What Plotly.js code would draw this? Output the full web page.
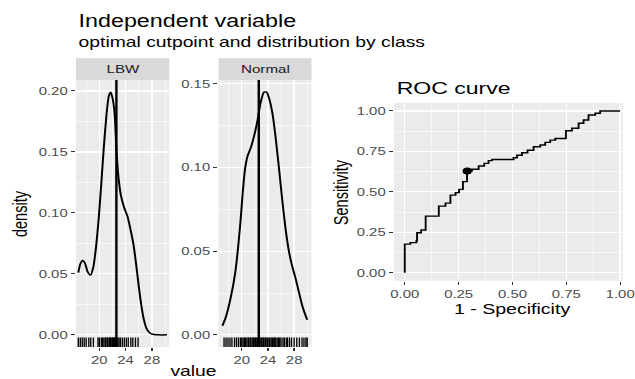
<!DOCTYPE html>
<html><head><meta charset="utf-8">
<script src="https://cdn.plot.ly/plotly-3.0.1.min.js"></script>
<style>
html,body{margin:0;padding:0;overflow:hidden;background:#fff;width:635px;height:379px}
#wrap{width:635px;height:379px;overflow:hidden}
#chart{width:477px;height:379px;transform:scale(1.3312,1);transform-origin:0 0}
</style></head><body><div id="wrap"><div id="chart"></div></div>
<script>
// ---- data ----
const classes = ['LBW', 'Normal'];
const cutpoint = 22.6;
const lbwX = [16.8, 17.1, 17.45, 17.8, 18.2, 18.65, 19.1, 19.5, 19.9, 20.3, 20.7, 21.1, 21.45, 21.75, 22.05, 22.35, 22.6, 22.9, 23.3, 23.8, 24.3, 24.8, 25.2, 25.6, 26.0, 26.4, 26.8, 27.2, 27.7, 28.3, 29.0, 30.3];
const lbwY = [0.051, 0.058, 0.061, 0.059, 0.052, 0.049, 0.056, 0.072, 0.095, 0.124, 0.155, 0.181, 0.196, 0.199, 0.193, 0.180, 0.152, 0.130, 0.114, 0.104, 0.097, 0.085, 0.074, 0.058, 0.040, 0.024, 0.012, 0.005, 0.0015, 0.0003, 0.0, 0.0];
const normX = [17.05, 17.6, 18.25, 19.0, 19.75, 20.15, 20.5, 20.9, 21.4, 21.9, 22.4, 22.9, 23.4, 23.8, 24.2, 24.7, 25.2, 25.7, 26.2, 26.7, 27.2, 27.7, 28.2, 28.7, 29.2, 29.7, 30.0];
const normY = [0.0054, 0.011, 0.021, 0.037, 0.065, 0.085, 0.099, 0.107, 0.112, 0.119, 0.128, 0.139, 0.145, 0.145, 0.141, 0.132, 0.117, 0.099, 0.080, 0.063, 0.050, 0.041, 0.034, 0.026, 0.018, 0.012, 0.009];
const lbwRug = [16.8, 17.1, 17.4, 17.7, 18.0, 18.4, 18.7, 19.1, 19.8, 20.0, 20.3, 20.5, 20.7, 20.9, 21.0, 21.2, 21.3, 21.5, 21.6, 21.7, 21.8, 22.0, 22.1, 22.2, 22.3, 22.4, 22.6, 22.8, 23.0, 23.2, 23.5, 23.8, 24.1, 24.4, 24.8, 25.1, 25.5, 25.9];
const normRug = [17.3, 17.6, 17.9, 18.2, 18.5, 18.9, 19.2, 19.5, 19.8, 20.0, 20.2, 20.4, 20.6, 20.8, 21.0, 21.1, 21.3, 21.4, 21.6, 21.8, 21.9, 22.1, 22.2, 22.4, 22.5, 22.7, 22.8, 23.0, 23.1, 23.3, 23.4, 23.6, 23.7, 23.9, 24.0, 24.2, 24.3, 24.5, 24.7, 24.9, 25.0, 25.2, 25.4, 25.6, 25.8, 26.0, 26.3, 26.5, 26.8, 27.0, 27.3, 27.6, 28.0, 28.4, 28.8, 29.2, 29.5, 29.8, 30.0];
const fpr = [0, 0, 0.026, 0.054, 0.057, 0.076, 0.097, 0.158, 0.189, 0.212, 0.236, 0.252, 0.270, 0.289, 0.312, 0.343, 0.369, 0.389, 0.405, 0.505, 0.521, 0.544, 0.570, 0.598, 0.629, 0.652, 0.675, 0.699, 0.748, 0.776, 0.807, 0.830, 0.853, 0.884, 0.907, 1.0];
const tpr = [0, 0.177, 0.186, 0.198, 0.247, 0.264, 0.350, 0.412, 0.430, 0.480, 0.495, 0.515, 0.563, 0.629, 0.640, 0.660, 0.676, 0.693, 0.700, 0.711, 0.726, 0.742, 0.757, 0.779, 0.790, 0.806, 0.820, 0.830, 0.878, 0.893, 0.924, 0.944, 0.975, 0.986, 1.0, 1.0];
const optFpr = [0.29];
const optTpr = [0.629];

// ---- helpers / layout ----
const W = 635, H = 379;
const px = v => v / W, py = v => 1 - v / H;
const FONT = 'Liberation Sans, Arial, Helvetica, sans-serif';
const tickFont = {family: FONT, size: 11.2, color: '#4D4D4D'};
const xRange = [16.45, 30.65];
const y1Range = [-0.00995, 0.209];
const y2Range = [-0.00725, 0.15225];
const rugPos = r => r[0] + 0.015 * (r[1] - r[0]);
const rugMarker = {symbol: 'line-ns-open', size: 8, color: '#000', line: {width: 1, color: '#000'}};

function axisBase(extra) {
  return Object.assign({
    showline: false, zeroline: false, ticks: 'outside', ticklen: 3, tickwidth: 1,
    tickcolor: '#333333', tickfont: tickFont, showgrid: true, gridcolor: '#FFFFFF',
    gridwidth: 1.1, fixedrange: true
  }, extra);
}

const traces = [
  {x: lbwX, y: lbwY, xaxis: 'x', yaxis: 'y', mode: 'lines',
   line: {color: '#000', width: 1.5, shape: 'spline', smoothing: 0.6}},
  {x: lbwRug, y: lbwRug.map(() => rugPos(y1Range)), xaxis: 'x', yaxis: 'y', mode: 'markers', marker: rugMarker},
  {x: normX, y: normY, xaxis: 'x2', yaxis: 'y2', mode: 'lines',
   line: {color: '#000', width: 1.5, shape: 'spline', smoothing: 0.6}},
  {x: normRug, y: normRug.map(() => rugPos(y2Range)), xaxis: 'x2', yaxis: 'y2', mode: 'markers', marker: rugMarker},
  {x: fpr, y: tpr, xaxis: 'x3', yaxis: 'y3', mode: 'lines',
   line: {color: '#000', width: 1.4, shape: 'hv'}},
  {x: optFpr, y: optTpr, xaxis: 'x3', yaxis: 'y3', mode: 'markers',
   marker: {color: '#000', size: 7}}
];

const panelTopY = 80, panelBotY = 347;
const layout = {
  width: 477, height: 379,
  margin: {l: 0, r: 0, t: 0, b: 0, pad: 0},
  paper_bgcolor: '#FFFFFF', plot_bgcolor: '#EBEBEB',
  showlegend: false, hovermode: false,
  xaxis: axisBase({domain: [px(76), px(169.3)], anchor: 'y', range: xRange, tickmode: 'linear', tick0: 0, dtick: 4,
    minor: {tickmode: 'linear', tick0: 0, dtick: 2, showgrid: true, gridcolor: '#FFFFFF', gridwidth: 0.55}}),
  yaxis: axisBase({domain: [py(panelBotY), py(panelTopY)], anchor: 'x', range: y1Range, tickmode: 'linear', tick0: 0, dtick: 0.05, tickformat: '.2f',
    minor: {tickmode: 'linear', tick0: 0.025, dtick: 0.05, showgrid: true, gridcolor: '#FFFFFF', gridwidth: 0.55}}),
  xaxis2: axisBase({domain: [px(218.5), px(311.5)], anchor: 'y2', range: xRange, tickmode: 'linear', tick0: 0, dtick: 4,
    minor: {tickmode: 'linear', tick0: 0, dtick: 2, showgrid: true, gridcolor: '#FFFFFF', gridwidth: 0.55}}),
  yaxis2: axisBase({domain: [py(panelBotY), py(panelTopY)], anchor: 'x2', range: y2Range, tickmode: 'linear', tick0: 0, dtick: 0.05, tickformat: '.2f',
    minor: {tickmode: 'linear', tick0: 0.025, dtick: 0.05, showgrid: true, gridcolor: '#FFFFFF', gridwidth: 0.55}}),
  xaxis3: axisBase({domain: [px(394), px(623)], anchor: 'y3', range: [-0.05, 1.013], tickmode: 'linear', tick0: 0, dtick: 0.25, tickformat: '.2f',
    minor: {tickmode: 'linear', tick0: 0.125, dtick: 0.25, showgrid: true, gridcolor: '#FFFFFF', gridwidth: 0.55}}),
  yaxis3: axisBase({domain: [py(280.8), py(102.9)], anchor: 'x3', range: [-0.05, 1.05], tickmode: 'linear', tick0: 0, dtick: 0.25, tickformat: '.2f',
    minor: {tickmode: 'linear', tick0: 0.125, dtick: 0.25, showgrid: true, gridcolor: '#FFFFFF', gridwidth: 0.55}}),
  shapes: [
    {type: 'rect', xref: 'paper', yref: 'paper', x0: px(76), x1: px(169.3), y0: py(80), y1: py(58.3), fillcolor: '#D9D9D9', line: {width: 0}},
    {type: 'rect', xref: 'paper', yref: 'paper', x0: px(218.5), x1: px(311.5), y0: py(80), y1: py(58.3), fillcolor: '#D9D9D9', line: {width: 0}},
    {type: 'line', xref: 'x', yref: 'y domain', x0: cutpoint, x1: cutpoint, y0: 0, y1: 1, line: {color: '#000', width: 1.8}},
    {type: 'line', xref: 'x2', yref: 'y2 domain', x0: cutpoint, x1: cutpoint, y0: 0, y1: 1, line: {color: '#000', width: 1.8}}
  ],
  annotations: [
    {text: 'Independent variable', xref: 'paper', yref: 'paper', x: px(76), y: py(20.5), xanchor: 'left', yanchor: 'middle', showarrow: false, font: {family: FONT, size: 17.5, color: '#000'}},
    {text: 'optimal cutpoint and distribution by class', xref: 'paper', yref: 'paper', x: px(76), y: py(41.8), xanchor: 'left', yanchor: 'middle', showarrow: false, font: {family: FONT, size: 14.5, color: '#000'}},
    {text: classes[0], xref: 'paper', yref: 'paper', x: px(122.65), y: py(69.2), xanchor: 'center', yanchor: 'middle', showarrow: false, font: {family: FONT, size: 11.4, color: '#1A1A1A'}},
    {text: classes[1], xref: 'paper', yref: 'paper', x: px(265), y: py(69.2), xanchor: 'center', yanchor: 'middle', showarrow: false, font: {family: FONT, size: 11.4, color: '#1A1A1A'}},
    {text: 'density', xref: 'paper', yref: 'paper', x: px(20), y: py(214), xanchor: 'center', yanchor: 'middle', textangle: -90, showarrow: false, font: {family: FONT, size: 14.5, color: '#000'}},
    {text: 'value', xref: 'paper', yref: 'paper', x: px(193.5), y: py(371), xanchor: 'center', yanchor: 'middle', showarrow: false, font: {family: FONT, size: 14.5, color: '#000'}},
    {text: 'ROC curve', xref: 'paper', yref: 'paper', x: px(394), y: py(87.6), xanchor: 'left', yanchor: 'middle', showarrow: false, font: {family: FONT, size: 17.3, color: '#000'}},
    {text: 'Sensitivity', xref: 'paper', yref: 'paper', x: px(341), y: py(192), xanchor: 'center', yanchor: 'middle', textangle: -90, showarrow: false, font: {family: FONT, size: 14.5, color: '#000'}},
    {text: '1 - Specificity', xref: 'paper', yref: 'paper', x: px(512), y: py(308.5), xanchor: 'center', yanchor: 'middle', showarrow: false, font: {family: FONT, size: 14.7, color: '#000'}}
  ]
};

Plotly.newPlot('chart', traces, layout, {displayModeBar: false, staticPlot: true});
</script></body></html>
